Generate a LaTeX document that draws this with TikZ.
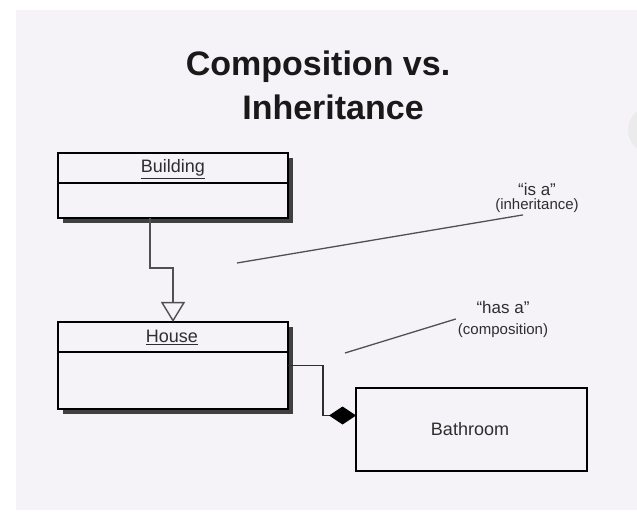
\documentclass[tikz,border=0pt]{standalone}
\usepackage{fontspec}
\setmainfont{Liberation Sans}
\usetikzlibrary{arrows.meta,shadows}

\definecolor{pagetint}{HTML}{F6F3F8}
\definecolor{linkgray}{HTML}{505050}
\definecolor{inkgray}{HTML}{2E2E2E}

\tikzset{
  classbox/.style={draw=black, line width=2.4pt, fill=pagetint, outer sep=0pt,
    minimum width=230pt,
    drop shadow={shadow xshift=5pt, shadow yshift=-5pt, fill=black!75, opacity=1}},
  partbox/.style={draw=black, line width=2pt, fill=pagetint, outer sep=0pt},
  divider/.style={draw=black, line width=2.4pt},
  classname/.style={font=\fontsize{18}{20}\selectfont, text=inkgray, anchor=base, inner sep=0pt},
  notetext/.style={font=\fontsize{15}{17}\selectfont, text=inkgray, align=center, inner sep=2pt},
  noteline/.style={draw=linkgray, line width=1.3pt},
  inherit/.style={draw=linkgray, line width=1.4pt,
    -{Triangle[open, length=20pt, width=24pt, line width=1.4pt]}},
  compose/.style={draw=inkgray, line width=1.4pt,
    -{Diamond[length=27pt, width=18pt, fill=black, color=black]}}
}

\begin{document}
\begin{tikzpicture}[x=1pt, y=-1pt]
    \useasboundingbox (0,0) rectangle (637,518);
    \fill[white] (0,0) rectangle (637,518);
    \fill[pagetint] (16,10) rectangle (637,510);
    \fill[black!8] (652,130) circle (24);

    % title
    \node[font=\fontsize{34}{40}\selectfont\bfseries, text=black!90, anchor=base, inner sep=0pt]
        (title1) at (318,76) {Composition vs.};
    \node[font=\fontsize{34}{40}\selectfont\bfseries, text=black!90, anchor=base, inner sep=0pt]
        (title2) at (333,120) {Inheritance};

    % classes
    \node[classbox, minimum height=65pt] (building) at (173,185.5) {};
    \draw[divider] ([yshift=-30pt]building.north west) -- ([yshift=-30pt]building.north east);
    \node[classname] (buildingname) at (173,173) {\underline{Building}};

    \node[classbox, minimum height=87pt] (house) at (173,365.5) {};
    \draw[divider] ([yshift=-30pt]house.north west) -- ([yshift=-30pt]house.north east);
    \node[classname] (housename) at (172,343) {\underline{House}};

    \node[partbox, minimum width=231pt, minimum height=83pt] (bathroom) at (471.5,429.5) {};
    \node[classname] (bathroomname) at (470,435) {Bathroom};

    % relations
    \draw[inherit] ([xshift=-23pt]building.south) -- ++(0,50) -| (house.north);
    \draw[compose] (house.east) -- ++(35,0) |- ([yshift=14pt]bathroom.west);

    % notes
    \node[notetext] (isa) at (537,198)
        {{\fontsize{17}{17}\selectfont ``is a''}\\[-3pt](inheritance)};
    \node[notetext] (hasa) at (503,319)
        {{\fontsize{17}{17}\selectfont ``has a''}\\[4pt](composition)};
    \coordinate (isafrom) at (237,263);
    \coordinate (hasafrom) at (345,353);
    \draw[noteline] (isafrom) -- ([xshift=-14pt]isa.south);
    \draw[noteline] (hasafrom) -- (hasa.west);
\end{tikzpicture}
\end{document}
